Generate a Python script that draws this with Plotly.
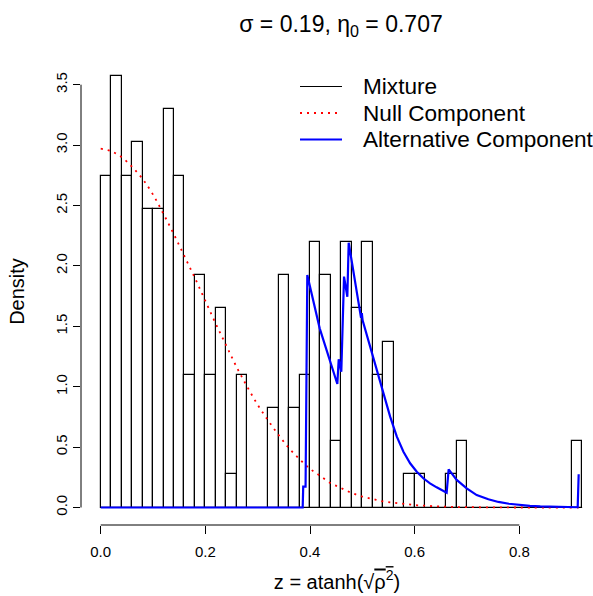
import plotly.graph_objects as go

# ---------------- data ----------------
breaks = [0.00, 0.02, 0.04, 0.06, 0.08, 0.10, 0.12, 0.14, 0.16, 0.18,
          0.20, 0.22, 0.24, 0.26, 0.28, 0.30, 0.32, 0.34, 0.36, 0.38,
          0.40, 0.42, 0.44, 0.46, 0.48, 0.50, 0.52, 0.54, 0.56, 0.58,
          0.60, 0.62, 0.64, 0.66, 0.68, 0.70, 0.72, 0.74, 0.76, 0.78,
          0.80, 0.82, 0.84, 0.86, 0.88, 0.90, 0.92]
counts = [10, 13, 10, 11, 9, 9, 12, 10, 4, 7,
          4, 6, 1, 4, 0, 0, 3, 7, 3, 4,
          8, 7, 2, 8, 6, 8, 4, 5, 0, 1,
          1, 0, 0, 1, 2, 0, 0, 0, 0, 0,
          0, 0, 0, 0, 0, 2]
n_obs = sum(counts)  # 182

null_z = [0.00, 0.02, 0.04, 0.06, 0.08, 0.10, 0.12, 0.14, 0.16, 0.18,
          0.20, 0.22, 0.24, 0.26, 0.28, 0.30, 0.32, 0.34, 0.36, 0.38,
          0.40, 0.42, 0.44, 0.46, 0.48, 0.50, 0.52, 0.54, 0.56, 0.58,
          0.60, 0.62, 0.64, 0.66, 0.68, 0.72, 0.80, 0.913]
null_density = [2.97, 2.95, 2.90, 2.82, 2.72, 2.59, 2.43, 2.26, 2.08, 1.90,
                1.71, 1.52, 1.34, 1.16, 1.00, 0.85, 0.72, 0.60, 0.49, 0.40,
                0.32, 0.26, 0.20, 0.16, 0.12, 0.09, 0.07, 0.05, 0.04, 0.03,
                0.02, 0.015, 0.01, 0.007, 0.004, 0.002, 0.0, 0.0]

alt_z = [0.000, 0.386, 0.387, 0.3915, 0.3948, 0.4185, 0.4522, 0.4548, 0.4598,
         0.4650, 0.4713, 0.4739, 0.4975, 0.4990, 0.5005, 0.5204, 0.5278,
         0.5403, 0.5531, 0.5659, 0.5785, 0.5913, 0.6040, 0.6165, 0.6293,
         0.6420, 0.6611, 0.6649, 0.6803, 0.6994, 0.7185, 0.7408, 0.76, 0.78,
         0.80, 0.82, 0.84, 0.86, 0.88, 0.90, 0.9115, 0.9134]
alt_density = [0.0, 0.0, 0.172, 0.172, 1.925, 1.483, 1.022, 1.227, 1.124,
               1.911, 1.745, 2.192, 1.57, 1.61, 1.55, 1.244, 1.138,
               0.931, 0.752, 0.586, 0.462, 0.366, 0.296, 0.242, 0.200,
               0.167, 0.123, 0.316, 0.228, 0.159, 0.103, 0.068, 0.046, 0.031,
               0.021, 0.014, 0.009, 0.006, 0.004, 0.003, 0.002, 0.275]

x_ticks = [0.0, 0.2, 0.4, 0.6, 0.8]
x_tick_labels = ["0.0", "0.2", "0.4", "0.6", "0.8"]
y_ticks = [0.0, 0.5, 1.0, 1.5, 2.0, 2.5, 3.0, 3.5]
y_tick_labels = ["0.0", "0.5", "1.0", "1.5", "2.0", "2.5", "3.0", "3.5"]

legend_labels = ["Mixture", "Null Component", "Alternative Component"]
# ------------------------------------------------------------

bin_w = [breaks[i + 1] - breaks[i] for i in range(len(counts))]
bin_mid = [(breaks[i] + breaks[i + 1]) / 2 for i in range(len(counts))]
density = [c / (n_obs * w) for c, w in zip(counts, bin_w)]

FONT = "Liberation Sans, Arial, Helvetica, sans-serif"

fig = go.Figure()
fig.add_trace(go.Bar(x=bin_mid, y=density, width=bin_w, name="Mixture",
                     marker=dict(color="white", line=dict(color="black", width=1.2)),
                     showlegend=False, hoverinfo="skip"))
fig.add_trace(go.Scatter(x=[breaks[0], breaks[-1]], y=[0, 0], mode="lines",
                         line=dict(color="black", width=1.2), showlegend=False,
                         hoverinfo="skip"))
fig.add_trace(go.Scatter(x=null_z, y=null_density, mode="lines", name="Null Component",
                         line=dict(color="#FF0000", width=1.8, dash="2px,5px", shape="spline"),
                         showlegend=False))
fig.add_trace(go.Scatter(x=alt_z, y=alt_density, mode="lines", name="Alternative Component",
                         line=dict(color="#0000FF", width=2.2), showlegend=False))

L, R, T, B = 81, 0, 58, 71
W, H = 593, 596
pw, ph = W - L - R, H - T - B

def px_x(p):
    return (p - L) / pw

def px_y(p):
    return (H - B - p) / ph

shapes = [
    dict(type="line", xref="x", yref="paper", x0=x_ticks[0], x1=x_ticks[-1], y0=0, y1=0,
         line=dict(color="black", width=1)),
    dict(type="line", xref="paper", yref="y", x0=0, x1=0, y0=y_ticks[0], y1=y_ticks[-1],
         line=dict(color="black", width=1)),
]
annotations = []
leg_rows = [86.5, 113, 139.5]
leg_styles = [dict(color="black", width=1.2),
              dict(color="#FF0000", width=1.8, dash="2px,5px"),
              dict(color="#0000FF", width=2.2)]
for lab, yy, st in zip(legend_labels, leg_rows, leg_styles):
    shapes.append(dict(type="line", xref="paper", yref="paper", x0=px_x(300), x1=px_x(342),
                       y0=px_y(yy), y1=px_y(yy), line=st))
    annotations.append(dict(text=lab, xref="paper", yref="paper", x=px_x(361), y=px_y(yy),
                            xanchor="left", yanchor="middle", showarrow=False,
                            font=dict(family=FONT, size=22.6, color="black")))

fig.update_layout(
    width=W, height=H,
    margin=dict(l=L, r=R, t=T, b=B, pad=0),
    plot_bgcolor="white", paper_bgcolor="white",
    bargap=0, showlegend=False,
    font=dict(family=FONT, color="black"),
    title=dict(text="σ = 0.19, η<sub>0</sub> = 0.707", x=px_x(341), xref="paper",
               xanchor="center", y=1 - 24 / H, yanchor="middle",
               font=dict(family=FONT, size=23, color="black")),
    shapes=shapes, annotations=annotations,
)
fig.update_xaxes(range=[-0.03765, 0.94077], tickvals=x_ticks, ticktext=x_tick_labels,
                 ticks="outside", ticklen=8, tickwidth=1, tickcolor="black",
                 ticklabelstandoff=5,
                 showline=False, showgrid=False, zeroline=False,
                 tickfont=dict(family=FONT, size=15, color="black"),
                 title=dict(text="z = atanh(√<span style=\"text-decoration:overline\">ρ<sup>2</sup></span>)",
                            font=dict(family=FONT, size=20, color="black"), standoff=15))
fig.update_yaxes(range=[-0.1449, 3.721], tickvals=y_ticks, ticktext=y_tick_labels,
                 tickangle=-90, ticks="outside", ticklen=7, tickwidth=1, tickcolor="black",
                 showline=False, showgrid=False, zeroline=False,
                 tickfont=dict(family=FONT, size=15, color="black"),
                 title=dict(text="Density", font=dict(family=FONT, size=20, color="black"),
                            standoff=23))

fig.write_html("out.html", config={"displayModeBar": False})
